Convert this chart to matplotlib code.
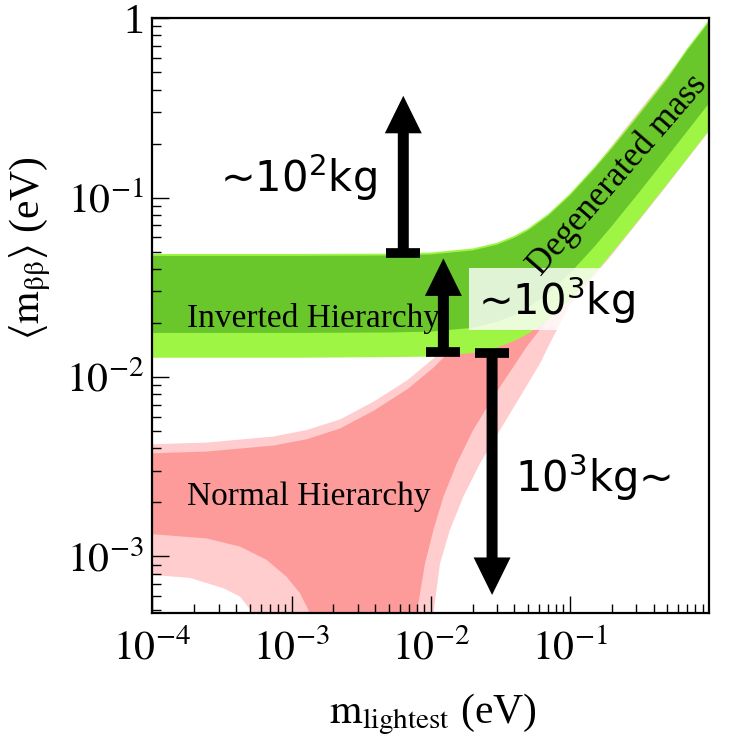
import numpy as np
import matplotlib
matplotlib.use("Agg")
import matplotlib.pyplot as plt

plt.rcParams['font.family'] = ['Liberation Serif', 'DejaVu Serif']
plt.rcParams['mathtext.fontset'] = 'stix'

# inverted hierarchy band (green)
ih_x = [1e-4, 1e-3, 5e-3, 1e-2, 2e-2, 3e-2, 4e-2, 5e-2, 7e-2, 0.1, 0.15, 0.2, 0.3, 0.5, 0.7, 1.0]
ih_top_light = [0.0485, 0.0485, 0.0487, 0.0494, 0.052, 0.056, 0.0612, 0.0672, 0.0812, 0.105, 0.148, 0.192, 0.283, 0.468, 0.68, 0.975]
ih_top_dark = [0.0473, 0.0473, 0.0475, 0.0482, 0.0507, 0.0546, 0.0597, 0.0655, 0.0792, 0.1024, 0.1443, 0.1872, 0.276, 0.456, 0.663, 0.95]
ih_bot_dark = [0.0176, 0.0176, 0.0177, 0.0179, 0.0188, 0.0203, 0.0221, 0.0243, 0.0293, 0.0378, 0.0532, 0.0693, 0.102, 0.1684, 0.235, 0.335]
ih_bot_light = [0.0128, 0.0128, 0.0129, 0.0130, 0.0136, 0.0146, 0.0159, 0.0174, 0.0209, 0.0268, 0.0376, 0.0489, 0.0720, 0.1187, 0.1655, 0.236]

# normal hierarchy band (red), upper edges
nh_top_x = [1e-4, 2.45e-4, 7.4e-4, 1.29e-3, 2.24e-3, 3.9e-3, 6.8e-3, 1.05e-2, 2e-2, 5e-2, 0.1, 0.3, 1.0]
nh_top_light = [4.22e-3, 4.31e-3, 4.66e-3, 5.07e-3, 5.81e-3, 7.3e-3, 9.6e-3, 1.27e-2, 2.1e-2, 5.0e-2, 0.098, 0.29, 0.93]
nh_top_dark = [3.76e-3, 3.84e-3, 4.15e-3, 4.5e-3, 5.17e-3, 6.5e-3, 8.55e-3, 1.13e-2, 1.87e-2, 4.45e-2, 0.087, 0.26, 0.83]

# lower edges (they dip below the axis in the cancellation region)
nh_bot_dark_x = [1e-4, 2.45e-4, 4.26e-4, 6.62e-4, 9.2e-4, 1.15e-3, 1.36e-3, 1.5e-3, 7.5e-3, 7.92e-3,
                 9.1e-3, 1.045e-2, 1.233e-2, 1.538e-2, 2.02e-2, 2.82e-2, 3.93e-2, 4.9e-2, 0.1, 0.3, 1.0]
nh_bot_dark = [1.33e-3, 1.26e-3, 1.135e-3, 9.57e-4, 7.7e-4, 6.24e-4, 4.8e-4, 1e-4, 1e-4, 4.8e-4,
               9.16e-4, 1.406e-3, 2.15e-3, 3.3e-3, 5.07e-3, 7.76e-3, 1.14e-2, 1.48e-2, 0.03, 0.09, 0.30]
nh_bot_light_x = [1e-4, 1.86e-4, 3.24e-4, 4.26e-4, 5.31e-4, 6e-4, 1.0e-2, 1.045e-2, 1.167e-2, 1.374e-2,
                  1.714e-2, 2.26e-2, 3.15e-2, 4.39e-2, 6.11e-2, 7.21e-2, 0.1, 0.2, 0.5, 1.0]
nh_bot_light = [7.89e-4, 7.59e-4, 6.65e-4, 5.97e-4, 4.8e-4, 1e-4, 1e-4, 4.8e-4, 9.16e-4, 1.406e-3,
                2.15e-3, 3.3e-3, 5.07e-3, 7.76e-3, 1.19e-2, 1.55e-2, 0.0252, 0.0478, 0.117, 0.234]

# arrows: x position, start (bar) and tip
arrow_x = [0.00635, 0.01233, 0.0276]
arrow_from = [0.0492, 0.01384, 0.01365]
arrow_to = [0.369, 0.0458, 0.00061]

y_ticks = [1e-3, 1e-2, 1e-1, 1]
y_labels = [r'$10^{-3}$', r'$10^{-2}$', r'$10^{-1}$', '1']
x_ticks = [1e-4, 1e-3, 1e-2, 1e-1]
x_labels = [r'$10^{-4}$', r'$10^{-3}$', r'$10^{-2}$', r'$10^{-1}$']

dark_green = '#69c72b'
light_green = '#9ef544'
dark_red = '#fd9a9a'
light_red = '#ffcdcd'

fig = plt.figure(figsize=(7.56, 7.54), dpi=100)
ax = fig.add_axes([0.2017, 0.187, 0.7361, 0.789])
ax.set_xscale('log')
ax.set_yscale('log')


def band(tx, ty, bx, by, color):
    xs = np.concatenate([tx, np.array(bx)[::-1]])
    ys = np.concatenate([ty, np.array(by)[::-1]])
    ax.fill(xs, ys, color=color, lw=0)


band(nh_top_x, nh_top_light, nh_bot_light_x, nh_bot_light, light_red)
band(nh_top_x, nh_top_dark, nh_bot_dark_x, nh_bot_dark, dark_red)
band(ih_x, ih_top_light, ih_x, ih_bot_light, light_green)
band(ih_x, ih_top_dark, ih_x, ih_bot_dark, dark_green)

ax.set_xlim(1e-4, 1.0)
ax.set_ylim(4.84e-4, 1.0)

ax.set_xticks(x_ticks)
ax.set_xticklabels(x_labels)
ax.set_yticks(y_ticks)
ax.set_yticklabels(y_labels)
ax.tick_params(which='both', direction='in', top=False, right=False, width=1.0)
ax.tick_params(which='major', length=12)
ax.tick_params(which='minor', length=6.5)
ax.tick_params(axis='x', labelsize=30, pad=12)
ax.tick_params(axis='y', labelsize=30, pad=6)
for s in ax.spines.values():
    s.set_linewidth(1.6)

# labels inside the plot
ax.text(0.0614, 0.4815, 'Inverted Hierarchy', transform=ax.transAxes, fontsize=24, va='baseline')
ax.text(0.0614, 0.1815, 'Normal Hierarchy', transform=ax.transAxes, fontsize=24, va='baseline')
fig.text(0.8175, 0.7679, 'Degenerated mass', fontsize=25, rotation=49, rotation_mode='anchor',
         ha='center', va='center')

# translucent box behind the middle label
ax.add_patch(plt.Rectangle((0.5687, 0.4756), 0.2443, 0.1042, transform=ax.transAxes,
                           facecolor='white', alpha=0.8, lw=0, zorder=3))

sans = dict(fontsize=30, family=['DejaVu Sans'], math_fontfamily='dejavusans', va='baseline')
fig.text(0.291, 0.7458, r'~10$^2$kg', **sans)
fig.text(0.632, 0.5822, r'~10$^3$kg', zorder=5, **sans)
fig.text(0.681, 0.3479, r'10$^3$kg~', **sans)

for x0, y0, y1 in zip(arrow_x, arrow_from, arrow_to):
    ax.annotate('', xy=(x0, y1), xytext=(x0, y0),
                arrowprops=dict(arrowstyle='simple,head_length=27,head_width=26.6,tail_width=7.9',
                                mutation_scale=1, color='k', lw=0, shrinkA=0, shrinkB=0),
                zorder=6)
    ax.plot([x0], [y0], marker='_', ms=24.5, mew=7, color='k', zorder=6)

fig.text(0.5724, 0.0411, r'$\mathrm{m}_{\mathrm{lightest}}$ (eV)', fontsize=30, ha='center', va='baseline')
fig.text(0.0397, 0.671, r'$\langle\mathrm{m}_{\mathrm{\beta\beta}}\rangle$ (eV)', fontsize=30, ha='center',
         va='center', rotation=90)

fig.savefig('out.png', dpi=100)
